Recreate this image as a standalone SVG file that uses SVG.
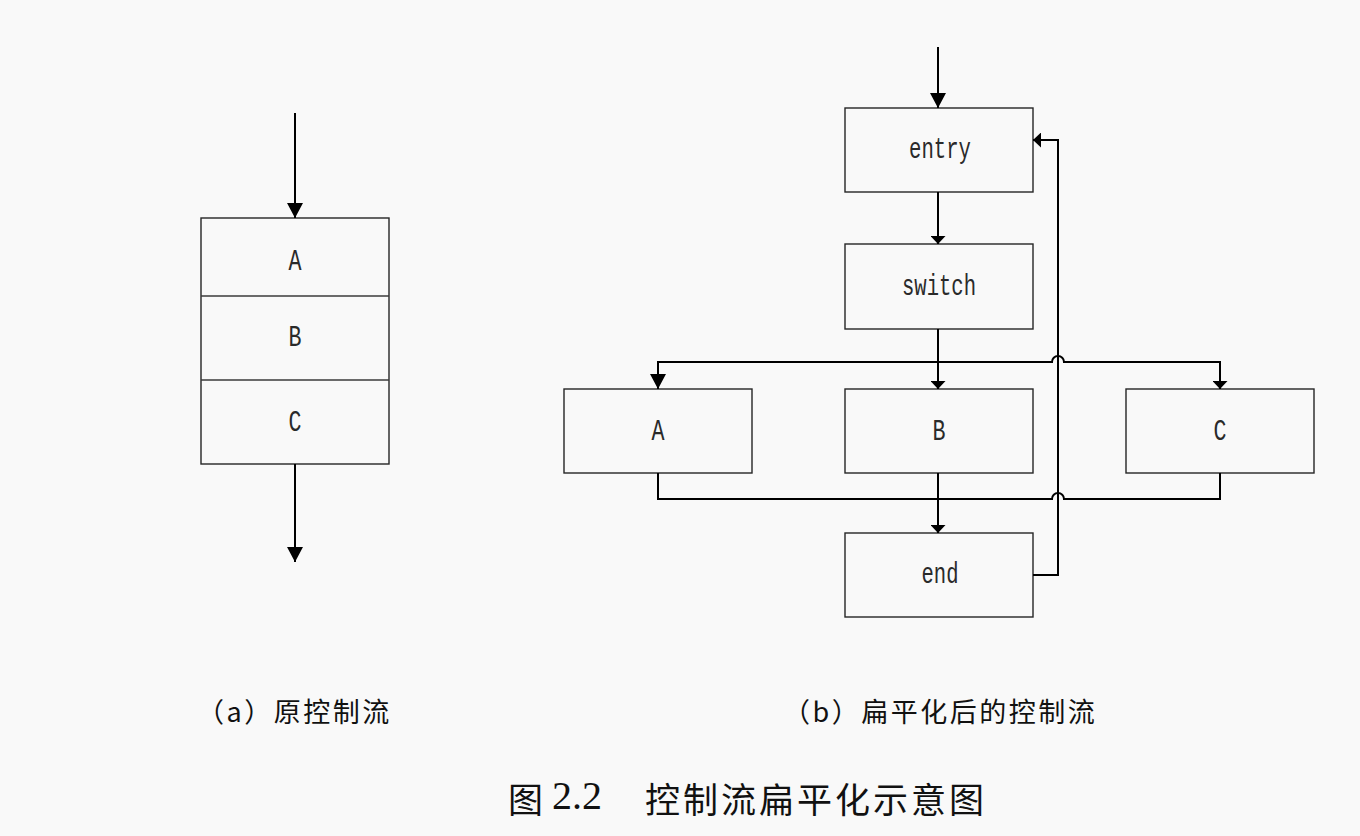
<svg xmlns="http://www.w3.org/2000/svg" width="1360" height="836" viewBox="0 0 1360 836">
  <style>
    .box { fill: #f9f9f9; stroke: #262626; stroke-width: 1.4; }
    .sep { stroke: #3a3a3a; stroke-width: 1.4; }
    .wire { fill: none; stroke: #000; stroke-width: 2; }
    .lbl { font-family: "Liberation Mono", "DejaVu Sans Mono", monospace; font-size: 30px; fill: #2a2a2a; text-anchor: middle; }
    .cap { font-family: "Noto Sans CJK SC", "Noto Sans CJK JP", sans-serif; font-size: 27px; fill: #111; letter-spacing: 2.5px; }
    .title { font-family: "Noto Sans CJK SC", "Noto Sans CJK JP", sans-serif; font-size: 35px; fill: #111; }
    .num { font-family: "Liberation Serif", "DejaVu Serif", serif; font-size: 40px; fill: #111; }
  </style>
  <defs>
    <marker id="big" markerUnits="userSpaceOnUse" viewBox="0 0 15 16" markerWidth="15" markerHeight="16" refX="15" refY="8" orient="auto">
      <path d="M0,0 L15,8 L0,16 z" fill="#000"/>
    </marker>
    <marker id="small" markerUnits="userSpaceOnUse" viewBox="0 0 8 15" markerWidth="8" markerHeight="15" refX="8" refY="7.5" orient="auto">
      <path d="M0,0 L8,7.5 L0,15 z" fill="#000"/>
    </marker>
  </defs>

  <rect width="1360" height="836" fill="#f9f9f9"/>

  <!-- (a) original straight-line flow -->
  <g id="orig-block">
    <rect class="box" x="201" y="218" width="188" height="246"/>
    <line class="sep" x1="201" y1="296" x2="389" y2="296"/>
    <line class="sep" x1="201" y1="380" x2="389" y2="380"/>
    <text class="lbl" x="295" y="270" textLength="13" lengthAdjust="spacingAndGlyphs">A</text>
    <text class="lbl" x="295" y="346" textLength="13" lengthAdjust="spacingAndGlyphs">B</text>
    <text class="lbl" x="295" y="431" textLength="13" lengthAdjust="spacingAndGlyphs">C</text>
  </g>

  <!-- (b) flattened flow nodes -->
  <g id="entry">
    <rect class="box" x="845" y="108" width="188" height="84"/>
    <text class="lbl" x="940" y="158" textLength="62" lengthAdjust="spacingAndGlyphs">entry</text>
  </g>
  <g id="switch">
    <rect class="box" x="845" y="244" width="188" height="85"/>
    <text class="lbl" x="939" y="295" textLength="74" lengthAdjust="spacingAndGlyphs">switch</text>
  </g>
  <g id="node-a">
    <rect class="box" x="564" y="389" width="188" height="84"/>
    <text class="lbl" x="658" y="440" textLength="13" lengthAdjust="spacingAndGlyphs">A</text>
  </g>
  <g id="node-b">
    <rect class="box" x="845" y="389" width="188" height="84"/>
    <text class="lbl" x="939" y="440" textLength="13" lengthAdjust="spacingAndGlyphs">B</text>
  </g>
  <g id="node-c">
    <rect class="box" x="1126" y="389" width="188" height="84"/>
    <text class="lbl" x="1220" y="440" textLength="13" lengthAdjust="spacingAndGlyphs">C</text>
  </g>
  <g id="end">
    <rect class="box" x="845" y="533" width="188" height="84"/>
    <text class="lbl" x="940" y="583" textLength="37" lengthAdjust="spacingAndGlyphs">end</text>
  </g>

  <!-- connectors -->
  <g id="connectors">
    <!-- (a) -->
    <line class="wire" x1="295" y1="113" x2="295" y2="218" marker-end="url(#big)"/>
    <line class="wire" x1="295" y1="464" x2="295" y2="562" marker-end="url(#big)"/>
    <!-- (b) -->
    <line class="wire" x1="938" y1="47" x2="938" y2="108" marker-end="url(#big)"/>
    <line class="wire" x1="938" y1="192" x2="938" y2="244" marker-end="url(#small)"/>
    <line class="wire" x1="938" y1="329" x2="938" y2="389" marker-end="url(#small)"/>
    <!-- dispatch bus to A and C, hopping over the back edge -->
    <path class="wire" d="M938,362 L658,362 L658,389" marker-end="url(#big)"/>
    <path class="wire" d="M938,362 L1052,362 A6,6 0 0 1 1064,362 L1220,362 L1220,389" marker-end="url(#small)"/>
    <!-- merge bus from A and C -->
    <path class="wire" d="M658,473 L658,499 L1052,499 A6,6 0 0 1 1064,499 L1220,499 L1220,473"/>
    <line class="wire" x1="938" y1="473" x2="938" y2="533" marker-end="url(#small)"/>
    <!-- back edge end -> entry -->
    <path class="wire" d="M1033,575 L1058,575 L1058,140 L1033,140" marker-end="url(#small)"/>
  </g>

  <!-- captions -->
  <text class="cap" x="197" y="722">（a）原控制流</text>
  <text class="cap" x="783" y="722">（b）扁平化后的控制流</text>

  <text class="title" x="508" y="813">图</text>
  <text class="num" x="552" y="809" font-family="Liberation Serif, DejaVu Serif, serif">2.2</text>
  <text class="title" x="645" y="813" style="letter-spacing:3px">控制流扁平化示意图</text>
</svg>
